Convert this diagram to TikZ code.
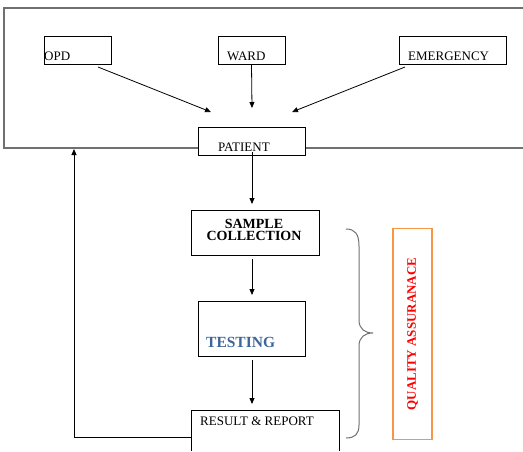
\documentclass[tikz,border=0pt]{standalone}
\usepackage{fontspec}
\setmainfont{Liberation Serif}
\usetikzlibrary{arrows.meta}
\definecolor{qaorange}{HTML}{F79646}
\definecolor{testblue}{HTML}{3C6699}
\definecolor{framegray}{HTML}{707070}
\begin{document}
\begin{tikzpicture}[x=1pt,y=-1pt,
  box/.style={draw=black,line width=0.9pt,rectangle,inner sep=0pt},
  lbl/.style={inner sep=0pt,anchor=base west,font=\fontsize{13}{15}\selectfont},
  arr/.style={draw=black,line width=0.8pt,-{Triangle[length=6pt,width=5pt]}}]
\useasboundingbox (0,0) rectangle (523,451);
% outer frame
\draw[framegray,line width=1.1pt] (523,8) -- (4,8) -- (4,148) -- (198,148);
\draw[framegray,line width=1.1pt] (305,148) -- (523,148);
% boxes
\node[box,minimum width=67pt,minimum height=28pt] (opd) at (77.5,50) {};
\node[box,minimum width=67pt,minimum height=28pt] (ward) at (251.5,50) {};
\node[box,minimum width=107pt,minimum height=28pt] (emg) at (452.5,50) {};
\node[box,fill=white,minimum width=107pt,minimum height=28pt] (pat) at (251.5,141) {};
\node[box,minimum width=128pt,minimum height=45pt] (samp) at (255,232.5) {};
\node[box,minimum width=107pt,minimum height=55pt] (test) at (251.5,329) {};
\draw[line width=0.9pt] (191,451) -- (191,410) -- (339,410) -- (339,451);
\coordinate (resw) at (191,437);
% texts
\node[lbl] (topd) at (44,60) {OPD};
\node[lbl] (tward) at (227,60) {WARD};
\node[lbl] (temg) at (408,60) {EMERGENCY};
\node[lbl] (tpat) at (218,151) {PATIENT};
\node[inner sep=0pt,align=center,font=\fontsize{14}{12.5}\selectfont\bfseries] (tsamp) at (254,230) {SAMPLE\\COLLECTION};
\node[lbl,font=\fontsize{15.5}{17}\selectfont\bfseries,text=testblue] (ttest) at (206,347) {TESTING};
\node[lbl] (tres) at (200,425) {RESULT \& REPORT};
% arrows
\coordinate (p1) at (211,112);
\coordinate (p2) at (252,108);
\coordinate (p3) at (292,112);
\coordinate (o1) at (98,67);
\coordinate (e1) at (405,67);
\draw[arr] (o1) -- (p1);
\draw[arr] (ward.south) -- (p2);
\draw[arr] (e1) -- (p3);
\draw[arr] (252,152) -- (252,204);
\draw[arr] (samp.south -| 252,0) ++(0,4) -- (252,295);
\draw[arr] (test.south -| 252,0) ++(0,3) -- (252,404);
\coordinate (fb) at (74,437);
\draw[arr] (resw) -- (fb) -- (74,149);
% brace
\draw[framegray,line width=1pt] (346,229) .. controls (355,229) and (359,234) .. (359,246) -- (359,320) .. controls (359,329) and (365,333) .. (373,333) .. controls (365,333) and (359,337) .. (359,346) -- (359,425) .. controls (359,434) and (355,438) .. (346,438);
% QA box
\node[draw=qaorange,line width=1.8pt,minimum width=39pt,minimum height=211pt,inner sep=0pt] (qa) at (412.5,334) {};
\node[rotate=90,text=red,inner sep=0pt,font=\fontsize{13}{15}\selectfont\bfseries] (tqa) at (qa.center) {QUALITY ASSURANACE};
\end{tikzpicture}
\end{document}
